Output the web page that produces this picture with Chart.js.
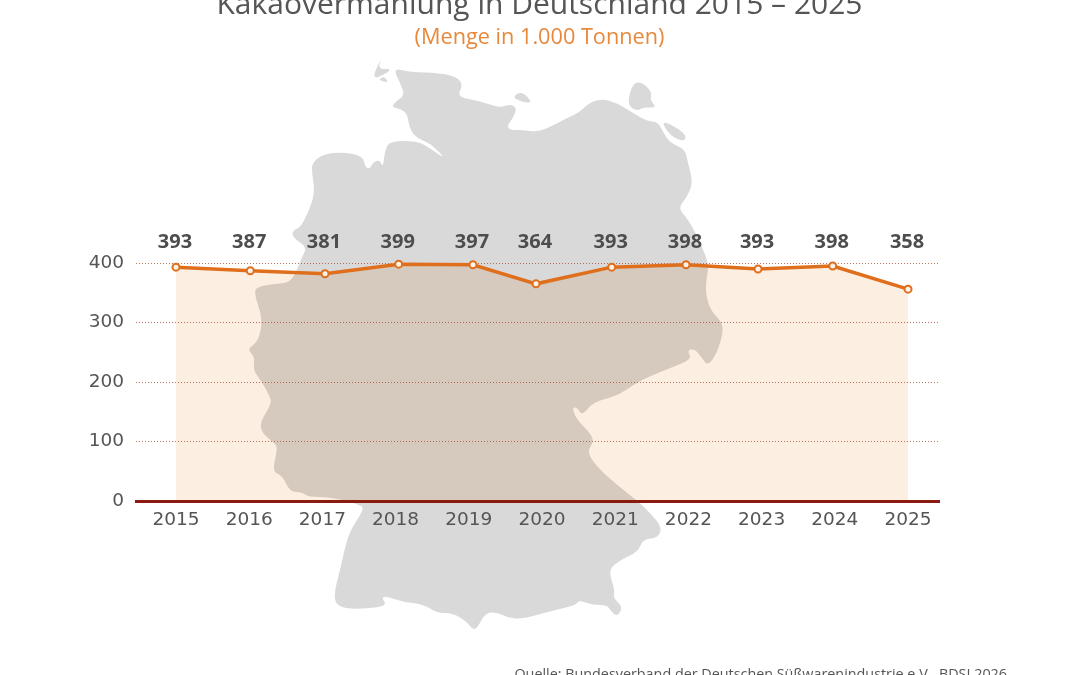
<!DOCTYPE html>
<html lang="de">
<head>
<meta charset="utf-8">
<title>Kakaovermahlung in Deutschland 2015 – 2025</title>
<style>
  html, body { margin: 0; padding: 0; background: #fff; }
  canvas { display: block; }
</style>
<script src="https://cdn.jsdelivr.net/npm/chart.js@4"></script>
</head>
<body>
<canvas id="kakaoChart" width="1080" height="675"></canvas>
<script>
// Jahre und Werte, so wie sie im Bild stehen
const jahre = [2015, 2016, 2017, 2018, 2019, 2020, 2021, 2022, 2023, 2024, 2025];
// Lage der Punkte: im Original sitzen sie nicht genau über den Jahreszahlen
const punktX = [2015, 2016.015, 2017.036, 2018.042, 2019.057, 2019.918, 2020.952, 2021.967, 2022.951, 2023.971, 2025];
const menge = [393, 387, 382, 398, 397, 365, 393, 397, 390, 395, 356];
// Beschriftung über den Punkten (weicht im Original teils von der Linie ab)
const wertLabels = ['393', '387', '381', '399', '397', '364', '393', '398', '393', '398', '358'];
const yTicks = [0, 100, 200, 300, 400];

const titel = 'Kakaovermahlung in Deutschland 2015 – 2025';
const untertitel = '(Menge in 1.000 Tonnen)';
const quelle = 'Quelle: Bundesverband der Deutschen Süßwarenindustrie e.V., BDSI 2026';

// Umriss Deutschland als Hintergrund (Seitenpixel, reine Dekoration)
const landUmriss = [
  [393,68],[410,72],[440,73],[457,77],[463,85],[457,97],[480,101],[500,108],[510,104],[517,108],
  [513,118],[507,126],[510,130],[523,130],[537,132],[550,127],[567,118],[580,112],[590,102],[603,99],
  [617,103],[633,113],[647,121],[658,122],[663,132],[670,143],[685,149],[688,163],[693,183],[687,197],
  [678,208],[687,218],[698,237],[708,262],[708,270],[705,290],[710,310],[722,322],[723,333],[717,353],
  [708,366],[702,358],[695,349],[687,350],[692,359],[673,367],[648,377],[633,385],[617,396],[593,402],
  [582,416],[577,407],[572,408],[577,420],[592,435],[593,443],[587,452],[597,467],[617,485],[640,503],
  [650,513],[662,527],[658,538],[643,539],[638,552],[620,560],[608,570],[615,590],[613,598],[623,607],
  [617,617],[610,610],[607,605],[593,605],[578,600],[577,605],[547,612],[523,619],[508,618],[497,612],
  [485,613],[478,627],[473,630],[467,622],[453,613],[437,613],[423,604],[403,602],[385,596],[382,598],
  [387,606],[363,609],[340,608],[333,598],[340,570],[348,535],[357,520],[363,510],[362,505],[330,497],
  [308,497],[302,492],[290,492],[282,475],[272,472],[278,447],[273,442],[262,433],[260,422],[272,403],
  [269,395],[262,382],[253,370],[255,357],[247,349],[258,342],[263,320],[254,293],[257,287],[273,284],
  [287,283],[294,277],[302,257],[307,247],[292,237],[293,230],[300,228],[308,213],[315,193],[312,173],
  [312,163],[323,154],[343,152],[363,156],[365,167],[370,169],[373,162],[380,160],[383,168],[385,150],
  [390,141],[417,141],[428,147],[447,160],[430,143],[418,139],[410,130],[407,113],[400,109],[392,107],
  [395,102],[405,95],[400,83]
];
const inseln = [
  [[383,55],[370,82],[395,68],[377,70]],
  [[378,80],[389,83],[384,76]],
  [[512,97],[522,91],[533,103],[522,102]],
  [[628,100],[633,83],[642,82],[652,92],[650,100],[657,108],[643,107],[638,111],[630,107]],
  [[660,119],[686,133],[685,142],[670,136]]
];

function zeichneForm(ctx, pts) {
  // weiche Kanten über die Mittelpunkte der Segmente
  const n = pts.length;
  ctx.beginPath();
  ctx.moveTo((pts[n - 1][0] + pts[0][0]) / 2, (pts[n - 1][1] + pts[0][1]) / 2);
  for (let i = 0; i < n; i++) {
    const p = pts[i], q = pts[(i + 1) % n];
    ctx.quadraticCurveTo(p[0], p[1], (p[0] + q[0]) / 2, (p[1] + q[1]) / 2);
  }
  ctx.closePath();
  ctx.fill();
}

const hintergrundPlugin = {
  id: 'hintergrund',
  beforeDraw(chart) {
    const ctx = chart.ctx;
    ctx.save();
    ctx.fillStyle = '#d9d9d9';
    zeichneForm(ctx, landUmriss);
    inseln.forEach(i => zeichneForm(ctx, i));
    ctx.restore();
  },
  // Fläche multipliziert mit der Karte, die Linie danach wieder normal
  beforeDatasetsDraw(chart) {
    chart.ctx.globalCompositeOperation = 'multiply';
  },
  beforeDatasetDraw(chart) {
    chart.ctx.globalCompositeOperation = 'source-over';
  }
};

const textPlugin = {
  id: 'texte',
  afterDatasetsDraw(chart) {
    const ctx = chart.ctx;
    const xAchse = chart.scales.x;
    const yAchse = chart.scales.y;
    ctx.save();
    // Wertezeile über der Linie
    ctx.font = 'bold 20px "Open Sans"';
    ctx.fillStyle = '#4d4d4d';
    ctx.textAlign = 'center';
    ctx.textBaseline = 'middle';
    wertLabels.forEach((t, i) => {
      ctx.fillText(t, xAchse.getPixelForValue(punktX[i]) - 1, yAchse.getPixelForValue(435));
    });
    ctx.textBaseline = 'alphabetic';
    ctx.font = '30px "Open Sans"';
    ctx.fillStyle = '#555555';
    ctx.fillText(titel, 539.5, 14);
    ctx.font = '21.7px "Open Sans"';
    ctx.fillStyle = '#e8883a';
    ctx.fillText(untertitel, 539.5, 44);
    ctx.font = '14.35px "Open Sans"';
    ctx.fillStyle = '#555555';
    ctx.textAlign = 'right';
    ctx.fillText(quelle, 1007, 679);
    ctx.restore();
  }
};

new Chart(document.getElementById('kakaoChart'), {
  type: 'line',
  data: {
    datasets: [{
      data: punktX.map((x, i) => ({ x: x, y: menge[i] })),
      borderColor: '#df6f1c',
      borderWidth: 3.5,
      backgroundColor: '#fceee1',
      fill: 'origin',
      tension: 0,
      pointRadius: 3.5,
      pointBorderWidth: 2,
      pointBorderColor: '#df6f1c',
      pointBackgroundColor: '#fdf3ea'
    }]
  },
  options: {
    responsive: false,
    animation: false,
    devicePixelRatio: 1,
    layout: { padding: { top: 233.25, right: 141, left: 0, bottom: 0 } },
    plugins: { legend: { display: false }, tooltip: { enabled: false } },
    scales: {
      x: {
        type: 'linear',
        min: 2014.454,
        max: 2025.423,
        afterBuildTicks: s => { s.ticks = jahre.map(j => ({ value: j })); },
        afterFit: s => { s.height = 174; },
        grid: { display: false },
        border: { display: true, color: '#8b1a10', width: 3, z: 1 },
        ticks: {
          autoSkip: false,
          maxRotation: 0,
          padding: 0,
          color: '#555555',
          font: { family: 'DejaVu Sans', size: 18.5 },
          callback: v => String(v)
        }
      },
      y: {
        min: 0,
        max: 450,
        afterBuildTicks: s => { s.ticks = yTicks.map(v => ({ value: v })); },
        afterFit: s => { s.width = 136; },
        border: { display: false, dash: [1, 2] },
        grid: {
          drawTicks: false,
          color: c => (c.tick.value === 0 ? 'transparent' : 'rgba(170, 80, 60, 0.8)'),
          lineWidth: 1
        },
        ticks: {
          padding: 12,
          color: '#555555',
          font: { family: 'DejaVu Sans', size: 18.5 }
        }
      }
    }
  },
  plugins: [hintergrundPlugin, textPlugin]
});
</script>
</body>
</html>
